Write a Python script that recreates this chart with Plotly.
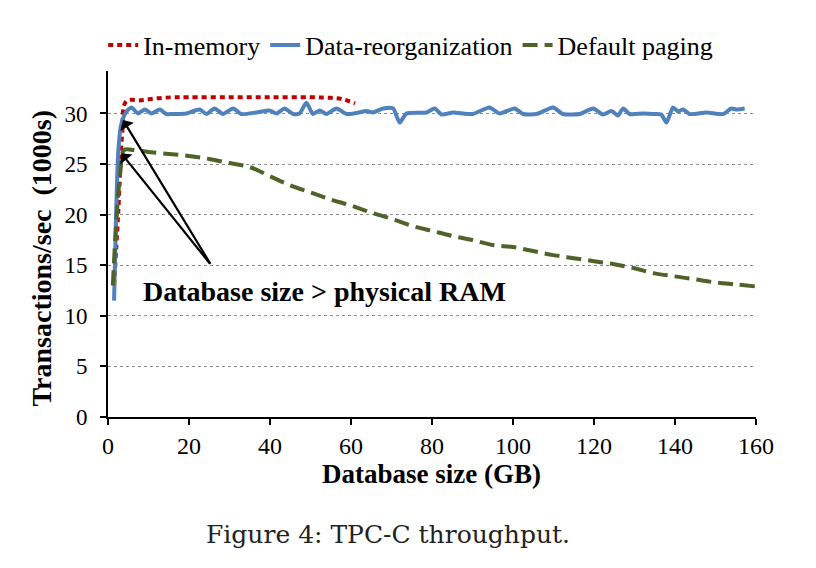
import plotly.graph_objects as go

# ---- data ----
inmem_x = [1.5, 2.5, 3.5, 4.5, 8, 12, 16, 20, 30, 40, 50, 55, 58, 61]
inmem_y = [13.0, 20.0, 28.0, 31.2, 31.3, 31.5, 31.6, 31.6, 31.6, 31.6, 31.6, 31.55, 31.4, 31.0]

reorg_x = [1.5, 2.0, 2.5, 3.2, 4.0, 4.8, 5.8, 7.4, 9.1, 10.7, 12.8, 14.4, 16.0, 19.4, 22.6, 24.3,
           26.3, 28.4, 30.9, 32.9, 36.6, 39.9, 41.6, 43.6, 45.7, 47.3, 49.0, 50.6, 52.3, 53.9,
           56.4, 58.9, 61.3, 63.8, 65.4, 67.9, 70.4, 72.0, 73.7, 78.6, 80.7, 82.3, 85.2, 90.1,
           94.2, 96.7, 100.4, 102.5, 105.8, 109.9, 112.3, 116.5, 119.8, 122.2, 124.3, 125.9,
           127.2, 128.8, 132.1, 134.6, 136.6, 137.9, 139.5, 140.7, 142.0, 143.6, 147.8, 151.9,
           153.9, 155.2, 157.2]
reorg_y = [11.5, 20.0, 26.0, 28.8, 29.8, 30.3, 30.6, 30.0, 30.4, 30.0, 30.4, 29.95, 29.95, 30.0,
           30.4, 29.95, 30.5, 29.95, 30.5, 29.95, 30.1, 30.3, 30.0, 30.5, 29.95, 30.0, 31.05,
           29.95, 30.3, 29.95, 30.5, 29.95, 30.05, 30.25, 30.1, 30.5, 30.5, 29.1, 30.0, 30.1,
           30.5, 29.9, 30.1, 29.95, 30.6, 30.0, 30.5, 29.95, 29.95, 30.6, 29.95, 29.95, 30.5,
           29.9, 30.25, 29.8, 30.5, 29.95, 30.0, 29.95, 29.9, 29.1, 30.6, 30.2, 30.4, 29.95,
           30.1, 29.95, 30.5, 30.4, 30.5]

paging_x = [1.2, 2, 3, 4, 6, 10, 15, 20, 25, 30, 35, 40, 45, 50, 55, 60, 65, 70, 75, 80, 85,
            90, 95, 100, 105, 110, 115, 120, 125, 130, 135, 140, 145, 150, 155, 160]
paging_y = [13.0, 19.0, 24.0, 26.4, 26.4, 26.2, 26.0, 25.8, 25.5, 25.1, 24.7, 23.8, 22.9, 22.2,
            21.5, 20.9, 20.2, 19.6, 18.9, 18.4, 17.9, 17.5, 17.0, 16.8, 16.4, 16.0, 15.7, 15.4,
            15.1, 14.7, 14.2, 13.9, 13.6, 13.3, 13.1, 12.9]

x_ticks = [0, 20, 40, 60, 80, 100, 120, 140, 160]
y_ticks = [0, 5, 10, 15, 20, 25, 30]

FONT = "Liberation Serif, Times New Roman, serif"

# plot area in screenshot pixels (page has an 8px body margin)
PX0, PX1, PY0, PY1 = 108.3, 756.3, 71.0, 417.3
PW, PH = PX1 - PX0, PY1 - PY0


def px(x):
    return (x - PX0) / PW


def py(y):
    return (PY1 - y) / PH


fig = go.Figure()
fig.add_trace(go.Scatter(x=inmem_x, y=inmem_y, mode="lines", name="In-memory",
                         line=dict(color="#C00000", width=4, dash="5px,4px", shape="spline")))
fig.add_trace(go.Scatter(x=reorg_x, y=reorg_y, mode="lines", name="Data-reorganization",
                         line=dict(color="#4F81BD", width=4, shape="spline", smoothing=0.6)))
fig.add_trace(go.Scatter(x=paging_x, y=paging_y, mode="lines", name="Default paging",
                         line=dict(color="#4F6228", width=4, dash="15px,7px", shape="spline")))

# arrows pointing at the knees
for hx, hy in [(3.7, 29.35), (3.3, 26.06)]:
    fig.add_annotation(x=hx, y=hy, ax=25.5, ay=15.0, xref="x", yref="y", axref="x", ayref="y",
                       text="", showarrow=True, arrowhead=1, arrowsize=1.2, arrowwidth=2.2,
                       arrowcolor="black")
fig.add_annotation(x=px(325), y=py(292), xref="paper", yref="paper",
                   text="<b>Database size > physical RAM</b>",
                   showarrow=False, font=dict(family=FONT, size=28, color="black"),
                   xanchor="center", yanchor="middle")

# y-axis title
fig.add_annotation(x=px(42), y=py(258), xref="paper", yref="paper",
                   text="<b>Transactions/sec  (1000s)</b>", textangle=-90,
                   showarrow=False, font=dict(family=FONT, size=28, color="black"),
                   xanchor="center", yanchor="middle")
# x-axis title
fig.add_annotation(x=px(432), y=py(474), xref="paper", yref="paper",
                   text="<b>Database size (GB)</b>",
                   showarrow=False, font=dict(family=FONT, size=27, color="black"),
                   xanchor="center", yanchor="middle")
# caption
fig.add_annotation(x=px(388), y=py(535), xref="paper", yref="paper",
                   text="Figure 4: TPC-C throughput.",
                   showarrow=False, font=dict(family="DejaVu Serif, serif", size=25, color="#222"),
                   xanchor="center", yanchor="middle")

fig.update_layout(
    width=816, height=568,
    margin=dict(l=100, r=68, t=63, b=159, autoexpand=False),
    paper_bgcolor="white", plot_bgcolor="white",
    font=dict(family=FONT, size=22, color="black"),
    showlegend=True,
    legend=dict(orientation="h", x=px(411), xanchor="center", y=py(45),
                yanchor="middle", font=dict(family=FONT, size=26, color="black"),
                bgcolor="rgba(0,0,0,0)", tracegroupgap=0),
    xaxis=dict(range=[0, 160], tickvals=x_ticks, showline=True, linecolor="black", linewidth=2,
               ticks="outside", ticklen=6, tickwidth=2, tickcolor="black", showgrid=False,
               zeroline=False, tickfont=dict(size=24), automargin=False),
    yaxis=dict(range=[0, 34.2], tickvals=y_ticks, showline=True, linecolor="black", linewidth=2,
               ticks="outside", ticklen=6, tickwidth=2, tickcolor="black", showgrid=True,
               gridcolor="#8c8c8c", gridwidth=1, griddash="dot", zeroline=False,
               tickfont=dict(size=23), automargin=False, ticklabelstandoff=8),
)

fig.write_html("out.html")
